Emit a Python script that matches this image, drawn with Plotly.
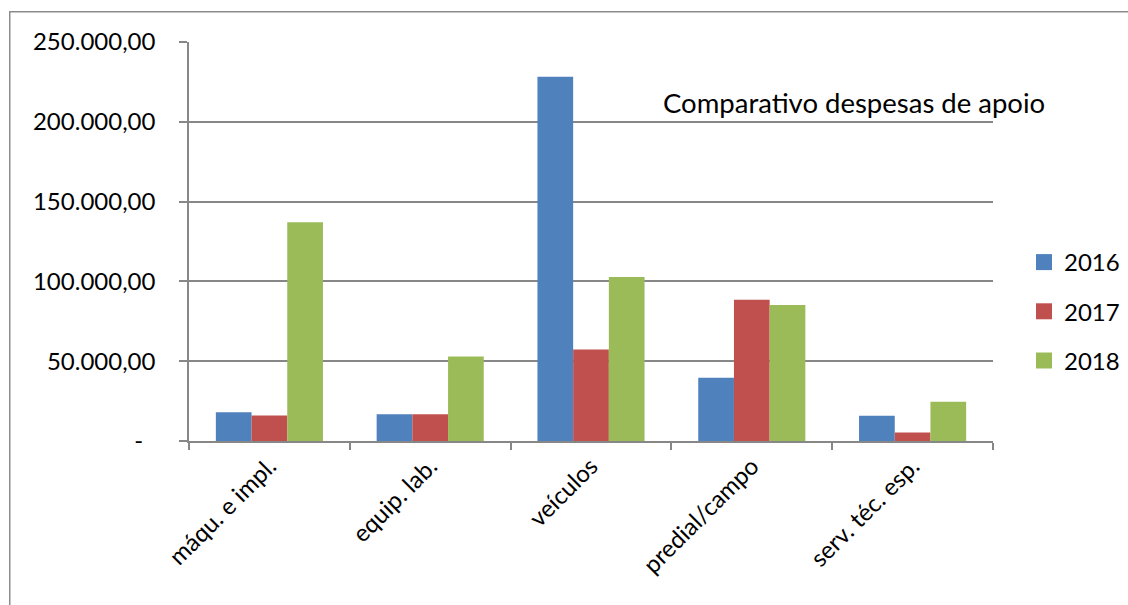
import plotly.graph_objects as go

categories = ["máqu. e impl.", "equip. lab.", "veículos", "predial/campo", "serv. téc. esp."]
series_names = ["2016", "2017", "2018"]
values_2016 = [18000, 16700, 228300, 39600, 15800]
values_2017 = [16000, 16800, 57300, 88500, 5400]
values_2018 = [137000, 52900, 102700, 85200, 24600]
series_colors = ["#4F81BD", "#C0504D", "#9BBB59"]
tick_values = [0, 50000, 100000, 150000, 200000, 250000]
tick_labels = ["-\u00a0\u00a0", "50.000,00", "100.000,00", "150.000,00", "200.000,00", "250.000,00"]
title_text = "Comparativo despesas de apoio"

FONT = "Lato, 'Open Sans', sans-serif"
GRID = "#878787"
FRAME = "#8C8C8C"

fig = go.Figure()
for name, vals, col in zip(series_names, [values_2016, values_2017, values_2018], series_colors):
    fig.add_trace(go.Bar(
        x=categories, y=vals, name=name, legendgroup=name, showlegend=False,
        marker=dict(color=col, line=dict(width=0)),
    ))
    # square legend swatch for the series
    fig.add_trace(go.Scatter(
        x=[None], y=[None], mode="markers", name=name, legendgroup=name,
        marker=dict(symbol="square", size=16, color=col, line=dict(width=0)),
    ))

W, H = 1128, 605
L, R, T, B = 189, 135, 42, 164
pw, ph = W - L - R, H - T - B

def px_x(x):
    return (x - L) / pw

def px_y(y):
    return (H - B - y) / ph

fig.update_layout(
    width=W, height=H,
    margin=dict(l=L, r=R, t=T, b=B, pad=0, autoexpand=False),
    paper_bgcolor="white", plot_bgcolor="white",
    barmode="group", bargap=0.334, bargroupgap=0,
    font=dict(family=FONT, size=24, color="black"),
    showlegend=True,
    legend=dict(
        x=px_x(1024), y=px_y(240), xanchor="left", yanchor="top",
        font=dict(size=24), tracegroupgap=15, bgcolor="rgba(0,0,0,0)",
        itemsizing="trace",
    ),
    xaxis=dict(
        showline=True, linecolor=GRID, linewidth=1.5,
        ticks="outside", ticklen=7, tickcolor=GRID, tickwidth=1.5,
        tickson="boundaries", tickangle=-45, showgrid=False,
        tickfont=dict(size=24),
    ),
    yaxis=dict(
        range=[0, 250000], tickvals=tick_values, ticktext=tick_labels,
        showline=True, linecolor=GRID, linewidth=1.5,
        ticks="outside", ticklen=8, tickcolor=GRID, tickwidth=1.5,
        showgrid=True, gridcolor=GRID, gridwidth=1.5,
        zeroline=False, ticklabelstandoff=19,
        tickfont=dict(size=24),
    ),
    annotations=[
        # chart frame: a bordered empty box whose right and bottom edges
        # fall outside the page, so only the top and left edges show
        dict(
            text=" ", xref="paper", yref="paper",
            x=px_x(9), y=px_y(11), xanchor="left", yanchor="top",
            width=1200, height=700, borderpad=0,
            bordercolor=FRAME, borderwidth=1.5, showarrow=False,
        ),
        dict(
            text=title_text, xref="paper", yref="paper",
            x=px_x(854), y=px_y(102), xanchor="center", yanchor="middle",
            showarrow=False, font=dict(size=27.5, family=FONT, color="black"),
        ),
    ],
)

fig.write_html("out.html")
